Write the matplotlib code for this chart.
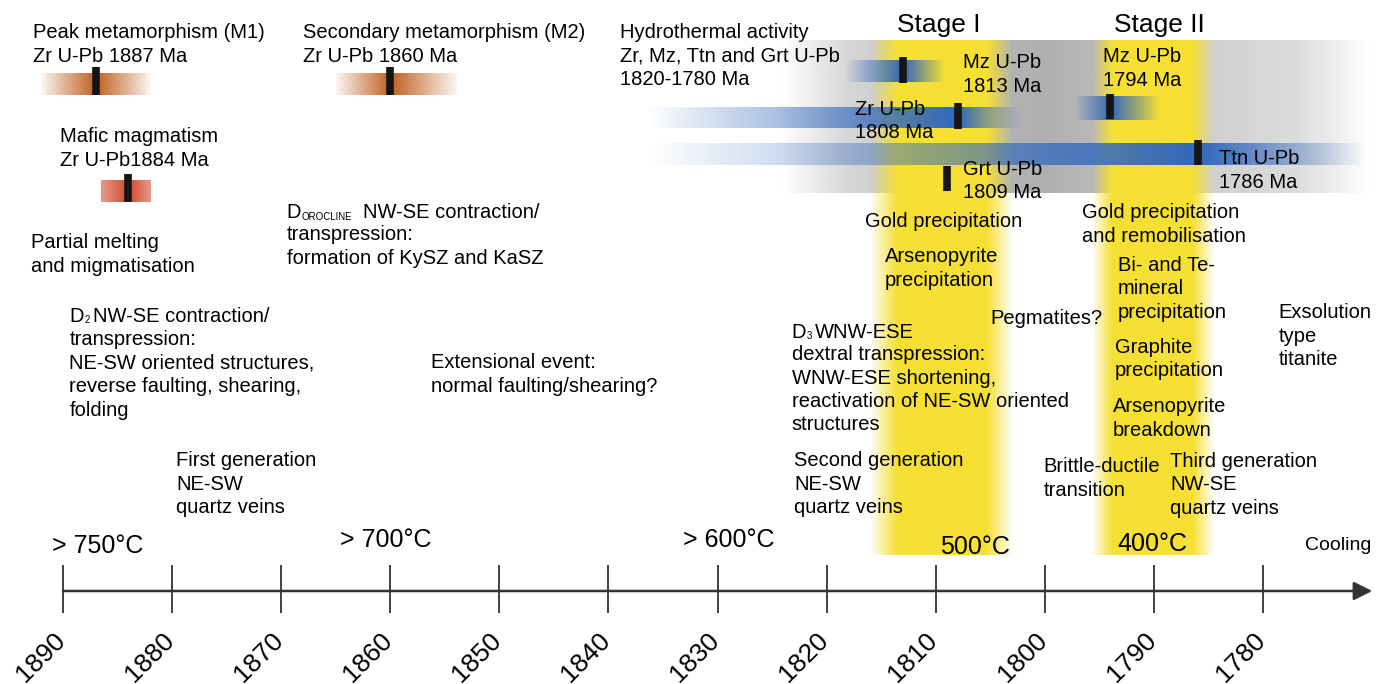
import numpy as np
import matplotlib
matplotlib.use('Agg')
import matplotlib.pyplot as plt
from matplotlib.colors import to_rgb

plt.rcParams['font.family'] = ['Liberation Sans', 'DejaVu Sans']

# time axis (Ma)
ticks = [1890, 1880, 1870, 1860, 1850, 1840, 1830, 1820, 1810, 1800, 1790, 1780]

# dated events: age, bar start, bar end (Ma)
brown_names = ['M1', 'M2', 'mafic']
brown_age = [1887, 1860, 1884]
brown_start = [1892, 1865, 1886.5]
brown_end = [1882, 1854, 1882]

blue_names = ['Mz', 'Zr', 'Mz2', 'Ttn']
blue_age = [1813, 1808, 1794, 1786]
blue_start = [1818.3, 1836.5, 1797.2, 1836.2]
blue_end = [1809.2, 1802.3, 1789.5, 1770.6]

grt_age = 1809

# hydrothermal window and the two stages (Ma)
hydro_span = [1824.3, 1770.2]
stage1_span = [1816.0, 1813.5, 1805.3, 1802.9]
stage2_span = [1795.7, 1793.85, 1786.5, 1784.6]

temps = ['> 750°C', '> 700°C', '> 600°C', '500°C', '400°C']
temp_pos = [1891.0, 1864.6, 1833.2, 1809.6, 1793.4]


def grad_bar(ax, x0, xc, x1, y0, y1, color, a0=0.0, a1=1.0, z=2):
    xs = np.linspace(x0, x1, 400)
    alpha = np.where(xs >= xc,
                     a0 + (a1 - a0) * (x0 - xs) / (x0 - xc),
                     a1 + (a0 - a1) * (xc - xs) / (xc - x1))
    img = np.zeros((1, len(xs), 4))
    img[..., :3] = to_rgb(color)
    img[0, :, 3] = np.clip(alpha, 0, 1)
    ax.imshow(img, extent=(x0, x1, y1, y0), aspect='auto',
              interpolation='bilinear', zorder=z)


def band(ax, xp, ap, y0, y1, color, z):
    xs = np.linspace(xp[0], xp[-1], 600)
    img = np.zeros((1, len(xs), 4))
    img[..., :3] = to_rgb(color)
    # xp decreasing -> interp on reversed arrays
    img[0, :, 3] = np.interp(-xs, [-v for v in xp], ap)
    ax.imshow(img, extent=(xp[0], xp[-1], y1, y0), aspect='auto',
              interpolation='bilinear', zorder=z)


fig = plt.figure(figsize=(13.89, 6.84), dpi=100)
ax = fig.add_axes([0, 0, 1, 1])

# grey hydrothermal band
hx = [hydro_span[0], 1818, 1808, 1800, 1795, 1786, 1777, hydro_span[1]]
ha = [0.0, 0.35, 0.62, 0.68, 0.6, 0.42, 0.3, 0.0]
band(ax, hx, ha, 40, 193, '#8a8a8a', 1)

# yellow stages
band(ax, stage1_span, [0, 1, 1, 0], 40, 555, '#f6e033', 2)
band(ax, stage2_span, [0, 1, 1, 0], 40, 555, '#f6e033', 2)

# brown / red bars
grad_bar(ax, brown_start[0], brown_age[0], brown_end[0], 73, 95, '#bf5f1e', 0.05, 1.0, 3)
grad_bar(ax, brown_start[1], brown_age[1], brown_end[1], 73, 95, '#bf5f1e', 0.05, 1.0, 3)
grad_bar(ax, brown_start[2], brown_age[2], brown_end[2], 180, 202, '#d2472a', 0.55, 1.0, 3)

# blue bars
blue_rows = [(60, 82), (107, 128), (96, 120), (143, 165)]
for s, a, e, (y0, y1) in zip(blue_start, blue_age, blue_end, blue_rows):
    grad_bar(ax, s, a, e, y0, y1, '#2f66be', 0.0, 1.0, 3)

# black age markers
tick_rows = [(67, 95), (67, 95), (174, 202)]
for a, (y0, y1) in zip(brown_age, tick_rows):
    ax.vlines(a, y0, y1, color='#151515', lw=5.5, zorder=5)
tick_rows = [(57, 83), (103, 129), (94, 119), (140, 165)]
for a, (y0, y1) in zip(blue_age, tick_rows):
    ax.vlines(a, y0, y1, color='#151515', lw=5.5, zorder=5)
ax.vlines(grt_age, 166, 191, color='#151515', lw=5.5, zorder=5)

# time axis
ax.annotate('', xy=(1770.0, 591), xytext=(ticks[0], 591),
            arrowprops=dict(arrowstyle='-|>', lw=1.8, color='#333333',
                            mutation_scale=28, shrinkA=0, shrinkB=0), zorder=6)
ax.vlines(ticks, 565, 613, color='#333333', lw=1.3, zorder=6)
for t in ticks:
    ax.text(t + 0.95, 628, str(t), rotation=45, rotation_mode='anchor',
            ha='right', va='top', fontsize=19, zorder=7)

temp_y = [534, 528, 528, 535, 532]
for lab, x, y in zip(temps, temp_pos, temp_y):
    ax.text(x, y, lab, fontsize=18, va='top', zorder=7)
ax.text(1776.2, 537, 'Cooling', fontsize=14, va='top', zorder=7)

ax.text(1813.6, 13, 'Stage I', fontsize=19, va='top', zorder=7)
ax.text(1793.7, 13, 'Stage II', fontsize=19, va='top', zorder=7)

fs = 14.5
ls = 1.3
labels = [
    (1892.75, 23, 'Peak metamorphism (M1)\nZr U-Pb 1887 Ma'),
    (1868.0, 23, 'Secondary metamorphism (M2)\nZr U-Pb 1860 Ma'),
    (1838.95, 23, 'Hydrothermal activity\nZr, Mz, Ttn and Grt U-Pb\n1820-1780 Ma'),
    (1807.5, 53, 'Mz U-Pb\n1813 Ma'),
    (1794.7, 47, 'Mz U-Pb\n1794 Ma'),
    (1817.4, 100, 'Zr U-Pb\n1808 Ma'),
    (1784.0, 149, 'Ttn U-Pb\n1786 Ma'),
    (1807.5, 160, 'Grt U-Pb\n1809 Ma'),
    (1890.3, 127, 'Mafic magmatism\nZr U-Pb1884 Ma'),
    (1892.95, 233, 'Partial melting\nand migmatisation'),
    (1889.4, 330, 'transpression:\nNE-SW oriented structures,\nreverse faulting, shearing,\nfolding'),
    (1856.3, 353, 'Extensional event:\nnormal faulting/shearing?'),
    (1879.6, 451, 'First generation\nNE-SW\nquartz veins'),
    (1816.5, 212, 'Gold precipitation'),
    (1814.7, 247, 'Arsenopyrite\nprecipitation'),
    (1805.0, 309, 'Pegmatites?'),
    (1823.2, 345, 'dextral transpression:\nWNW-ESE shortening,\n'
                  'reactivation of NE-SW oriented\nstructures'),
    (1823.0, 451, 'Second generation\nNE-SW\nquartz veins'),
    (1796.6, 203, 'Gold precipitation\nand remobilisation'),
    (1793.3, 256, 'Bi- and Te-\nmineral\nprecipitation'),
    (1778.6, 303, 'Exsolution\ntype\ntitanite'),
    (1793.6, 338, 'Graphite\nprecipitation'),
    (1793.8, 397, 'Arsenopyrite\nbreakdown'),
    (1800.1, 457, 'Brittle-ductile\ntransition'),
    (1788.5, 452, 'Third generation\nNW-SE\nquartz veins'),
]
for x, y, s in labels:
    ax.text(x, y, s, fontsize=fs, va='top', linespacing=ls, zorder=7)


# deformation headings: D + small subscript + rest of first line (y = baseline)
def heading(x, y, sub, rest, sub_dx, rest_dx, sub_fs):
    ax.text(x, y, 'D', fontsize=fs, va='baseline', zorder=7)
    ax.annotate(sub, (x, y), xytext=(sub_dx, -1.2), textcoords='offset points',
                fontsize=sub_fs, va='baseline', zorder=7)
    ax.annotate(rest, (x, y), xytext=(rest_dx, 0), textcoords='offset points',
                fontsize=fs, va='baseline', zorder=7)


heading(1869.5, 218.5, 'OROCLINE', 'NW-SE contraction/', 10.8, 55, 7)
ax.text(1869.5, 225, 'transpression:\nformation of KySZ and KaSZ', fontsize=fs,
        va='top', linespacing=ls, zorder=7)
heading(1889.4, 321.5, '2', 'NW-SE contraction/', 10.8, 17, 7)
heading(1823.2, 337.5, '3', 'WNW-ESE', 10.8, 17, 7)

ax.set_xlim(1895.77, 1768.46)
ax.set_ylim(684, 0)
ax.axis('off')

plt.savefig('out.png', dpi=100)
